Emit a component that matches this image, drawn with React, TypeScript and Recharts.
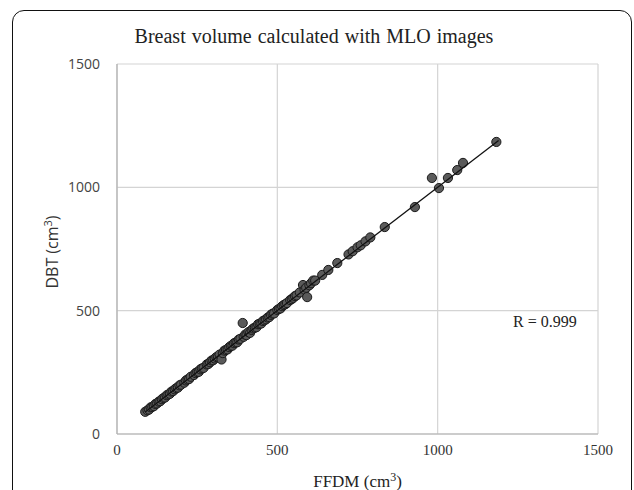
import React from "react";
import { ScatterChart, Scatter, XAxis, YAxis, CartesianGrid } from "recharts";

// FFDM vs DBT volumes (cm3)
const ffdm = [
  88, 95, 100, 105, 110, 115, 120, 125, 130, 135, 140, 145, 150, 155, 160, 165, 170, 175,
  180, 185, 190, 195, 200, 210, 215, 220, 225, 230, 240, 245, 250, 255, 260, 265, 270, 280,
  285, 290, 295, 300, 305, 310, 315, 320, 326, 330, 335, 340, 345, 350, 355, 360, 365, 370,
  375, 380, 385, 392, 395, 400, 404, 410, 415, 420, 425, 430, 435, 440, 445, 450, 455, 460,
  465, 470, 475, 480, 485, 490, 500, 505, 510, 515, 520, 525, 530, 540, 545, 550, 555, 560,
  570, 580, 585, 590, 593, 600, 605, 612, 618, 640, 659, 687, 722, 735, 750, 760, 775, 790,
  835, 929, 982, 1004, 1032, 1061, 1079, 1183,
];
const dbt = [
  90, 96, 99, 108, 110, 113, 122, 124, 131, 133, 141, 146, 148, 157, 160, 163, 172, 174,
  181, 186, 188, 197, 200, 208, 217, 221, 223, 232, 239, 247, 251, 252, 262, 266, 268, 282,
  284, 291, 298, 299, 306, 312, 313, 322, 302, 328, 338, 341, 343, 352, 357, 358, 368, 371,
  372, 383, 386, 450, 394, 403, 401, 413, 410, 422, 428, 431, 433, 445, 447, 448, 458, 461,
  465, 472, 474, 483, 488, 489, 503, 507, 509, 518, 523, 526, 531, 543, 547, 552, 559, 562,
  574, 604, 585, 593, 555, 603, 611, 622, 622, 645, 665, 693, 728, 741, 757, 765, 781, 797,
  839, 920, 1038, 997, 1038, 1070, 1099, 1184,
];
const trendX = [88, 1190];
const trendY = [89, 1190];
const ticks = [0, 500, 1000, 1500];

const points = ffdm.map((x, i) => ({ x, y: dbt[i] }));
const trend = trendX.map((x, i) => ({ x, y: trendY[i] }));

const serif = "'Liberation Serif', 'Times New Roman', serif";
const sans = "'Open Sans', 'Noto Sans', sans-serif";

const Dot = (props: any) => (
  <circle cx={props.cx} cy={props.cy} r={4.6} fill="#5a5a5a" stroke="#1a1a1a" strokeWidth={1} />
);

export default function App() {
  return (
    <div style={{ position: "absolute", left: 0, top: 0, width: 634, height: 490, overflow: "hidden", background: "#fff" }}>
      <div
        style={{
          position: "absolute",
          left: 12,
          top: 10,
          width: 618,
          height: 520,
          border: "1.5px solid #111",
          borderRadius: 12,
        }}
      />
      <div
        style={{
          position: "absolute",
          left: -3,
          width: 634,
          top: 25,
          textAlign: "center",
          fontFamily: serif,
          fontSize: 20,
          color: "#222",
          wordSpacing: 1,
        }}
      >
        Breast volume calculated with MLO images
      </div>
      <div style={{ position: "absolute", left: 513, top: 313, fontFamily: serif, fontSize: 16, color: "#222" }}>
        R = 0.999
      </div>
      <div style={{ position: "absolute", left: 0, top: 0 }}>
        <ScatterChart width={634} height={490} margin={{ top: 64, right: 36, bottom: 26, left: 0 }}>
          <CartesianGrid stroke="#d4d4d4" strokeWidth={1.2} />
          <XAxis
            type="number"
            dataKey="x"
            domain={[0, 1500]}
            ticks={ticks}
            height={30}
            tickLine={false}
            axisLine={{ stroke: "#b0b0b0", strokeWidth: 1.2 }}
            tick={{ fill: "#333", fontSize: 15, fontFamily: serif }}
            tickMargin={4}
            label={(p: any) => {
              const vb = p.viewBox;
              return (
                <text x={vb.x + vb.width / 2} y={487} textAnchor="middle" fontFamily={serif} fontSize={17} fill="#222">
                  FFDM (cm
                  <tspan dy={-6} fontSize={12}>3</tspan>
                  <tspan dy={6}>)</tspan>
                </text>
              );
            }}
          />
          <YAxis
            type="number"
            dataKey="y"
            domain={[0, 1500]}
            ticks={ticks}
            width={117}
            tickLine={false}
            axisLine={{ stroke: "#b0b0b0", strokeWidth: 1.2 }}
            tick={{ fill: "#444", fontSize: 14, fontFamily: sans }}
            tickMargin={11}
            label={(p: any) => {
              const vb = p.viewBox;
              const cy = vb.y + vb.height / 2 + 3;
              return (
                <text x={58} y={cy} transform={`rotate(-90 58 ${cy})`} textAnchor="middle" fontFamily={sans} fontSize={16} fill="#333">
                  DBT (cm
                  <tspan dy={-6} fontSize={11}>3</tspan>
                  <tspan dy={6}>)</tspan>
                </text>
              );
            }}
          />
          <Scatter data={points} shape={Dot} isAnimationActive={false} />
          <Scatter
            data={trend}
            line={{ stroke: "#111", strokeWidth: 1.3 }}
            shape={() => null}
            isAnimationActive={false}
          />
        </ScatterChart>
      </div>
    </div>
  );
}
